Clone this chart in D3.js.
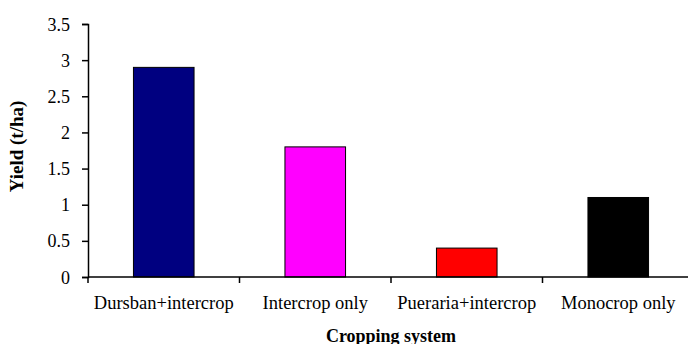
<!DOCTYPE html>
<html>
<head>
<meta charset="utf-8">
<script src="https://cdn.jsdelivr.net/npm/d3@7"></script>
<style>
  html, body { margin: 0; padding: 0; background: #fff; }
  svg { display: block; }
  svg text { font-family: "Liberation Serif", "Times New Roman", serif; fill: #000; }
</style>
</head>
<body>
<svg id="chart" width="688" height="344"></svg>
<script>
// Cropping systems and their yields (t/ha)
const categories = ["Dursban+intercrop", "Intercrop only", "Pueraria+intercrop", "Monocrop only"];
const yields = [2.9, 1.8, 0.4, 1.1];
const barColors = ["#000080", "#ff00ff", "#ff0000", "#000000"];
const yTicks = [0, 0.5, 1, 1.5, 2, 2.5, 3, 3.5];

const svg = d3.select("#chart");
const margin = { left: 88, right: -6, top: 24, bottom: 67 };
const W = 688, H = 344;

const x = d3.scaleBand()
  .domain(categories)
  .range([margin.left, W - margin.right])
  .paddingInner(0.6)
  .paddingOuter(0.3);

const y = d3.scaleLinear()
  .domain([0, 3.5])
  .range([H - margin.bottom, margin.top]);

// Bars
svg.append("g")
  .selectAll("rect")
  .data(categories)
  .join("rect")
  .attr("x", d => x(d))
  .attr("y", (d, i) => y(yields[i]))
  .attr("width", x.bandwidth())
  .attr("height", (d, i) => y(0) - y(yields[i]))
  .attr("fill", (d, i) => barColors[i])
  .attr("stroke", "#000")
  .attr("stroke-width", 1);

// Y axis
const yAxis = svg.append("g")
  .attr("transform", `translate(${margin.left},0)`)
  .attr("font-family", "Liberation Serif, serif")
  .attr("font-size", 18)
  .call(d3.axisLeft(y).tickValues(yTicks).tickFormat(d3.format("")).tickSizeOuter(0).tickSize(6).tickPadding(12));
yAxis.attr("font-family", "Liberation Serif, serif").attr("font-size", 18);
yAxis.select(".domain").attr("stroke", "#000").attr("stroke-width", 1.5);
yAxis.selectAll(".tick line").attr("stroke", "#000").attr("stroke-width", 1.5);
yAxis.selectAll("text").attr("font-size", 18).attr("fill", "#000").attr("dy", "0.34em");

// X axis: ticks mark category boundaries
const step = x.step();
const boundaries = d3.range(categories.length + 1).map(i => margin.left + i * step);
const xAxisG = svg.append("g");
xAxisG.append("line")
  .attr("x1", margin.left).attr("x2", W)
  .attr("y1", y(0)).attr("y2", y(0))
  .attr("stroke", "#000").attr("stroke-width", 1.5);
xAxisG.selectAll(".bt")
  .data(boundaries)
  .join("line")
  .attr("class", "bt")
  .attr("x1", d => d).attr("x2", d => d)
  .attr("y1", y(0)).attr("y2", y(0) + 6)
  .attr("stroke", "#000").attr("stroke-width", 1.5);
xAxisG.selectAll(".cl")
  .data(categories)
  .join("text")
  .attr("class", "cl")
  .attr("x", d => x(d) + x.bandwidth() / 2)
  .attr("y", 309)
  .attr("text-anchor", "middle")
  .attr("font-size", 18.5)
  .text(d => d);

// Axis titles
svg.append("text")
  .attr("x", (margin.left + W - margin.right) / 2)
  .attr("y", 342)
  .attr("text-anchor", "middle")
  .attr("font-size", 18)
  .attr("font-weight", "bold")
  .text("Cropping system");

svg.append("text")
  .attr("transform", `translate(23,${(y(0) + y(3.5)) / 2 - 4}) rotate(-90)`)
  .attr("text-anchor", "middle")
  .attr("font-size", 19)
  .attr("font-weight", "bold")
  .text("Yield (t/ha)");
</script>
</body>
</html>
